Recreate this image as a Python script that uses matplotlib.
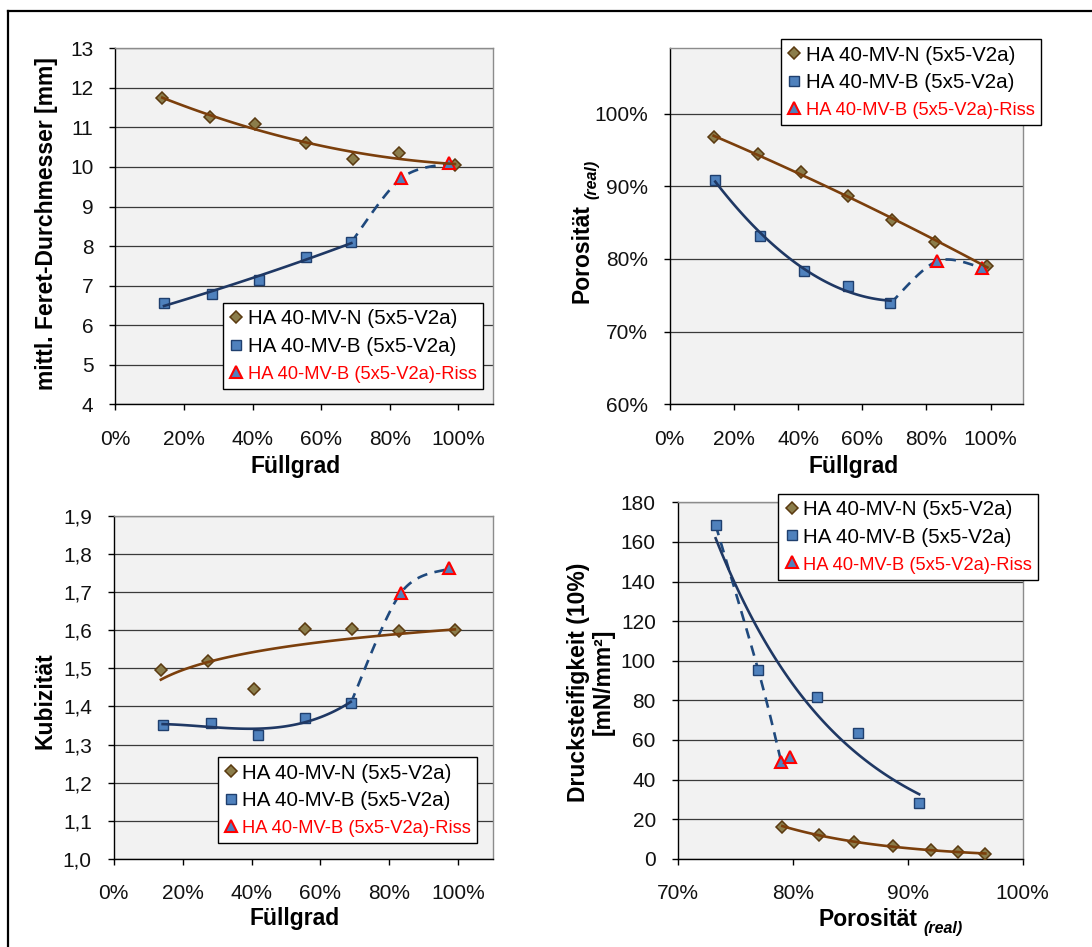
#!/usr/bin/env python3
"""Feret-Durchmesser, Porosität, Kubizität und Drucksteifigkeit über Füllgrad."""
import numpy as np
import matplotlib
matplotlib.use('Agg')
import matplotlib.pyplot as plt
from matplotlib.lines import Line2D
from matplotlib.ticker import FuncFormatter

plt.rcParams['font.family'] = ['Liberation Sans', 'DejaVu Sans']

# --- data -----------------------------------------------------------------
labels = ['HA 40-MV-N (5x5-V2a)', 'HA 40-MV-B (5x5-V2a)', 'HA 40-MV-B (5x5-V2a)-Riss']

# Füllgrad
fill_n = [0.137, 0.275, 0.408, 0.555, 0.692, 0.828, 0.990]
fill_b = [0.142, 0.282, 0.418, 0.556, 0.688]
fill_riss = [0.833, 0.974]

# mittl. Feret-Durchmesser [mm]
feret_n = [11.74, 11.27, 11.09, 10.61, 10.19, 10.35, 10.05]
feret_b = [6.57, 6.79, 7.14, 7.73, 8.10]
feret_riss = [9.71, 10.09]

# Porosität (real)
por_n = [0.9675, 0.944, 0.920, 0.887, 0.853, 0.823, 0.791]
por_b = [0.909, 0.832, 0.784, 0.763, 0.739]
por_riss = [0.797, 0.788]

# Kubizität
kub_n = [1.496, 1.518, 1.446, 1.603, 1.603, 1.597, 1.600]
kub_b = [1.351, 1.357, 1.325, 1.370, 1.409]
kub_riss = [1.697, 1.762]

# Drucksteifigkeit (10%) [mN/mm²] über Porosität
stiff_n = [2.5, 3.5, 4.2, 6.6, 8.3, 12.1, 16.0]
stiff_por_b = [0.733, 0.770, 0.821, 0.857, 0.910]
stiff_b = [168.5, 95.3, 81.7, 63.5, 28.1]
stiff_por_riss = [0.790, 0.798]
stiff_riss = [49.0, 51.5]

# --- style ----------------------------------------------------------------
BROWN = '#7B3F0C'
DIA_FACE = '#8B7D4B'
DIA_EDGE = '#5A3A10'
SQ_FACE = '#4F81BD'
SQ_EDGE = '#1F3F6E'
NAVY = '#1F3864'
DASH = '#1F497D'
RED = '#FF0000'

W, H = 1092, 947
LABEL_FS = 16.5
TICK_FS = 15
DIA_MS, SQ_MS, TRI_MS = 6.6, 6.6, 8.2


def fig_xy(x, y):
    return x / W, 1 - y / H


def trend(x, y, kind, n=120):
    x = np.asarray(x, float)
    y = np.asarray(y, float)
    xs = np.linspace(x.min(), x.max(), n)
    if kind == 'exp':
        c = np.polyfit(x, np.log(y), 1)
        return xs, np.exp(np.polyval(c, xs))
    if kind == 'log':
        c = np.polyfit(np.log(x), y, 1)
        return xs, np.polyval(c, np.log(xs))
    deg = {'lin': 1, 'poly2': 2, 'poly3': 3}[kind]
    c = np.polyfit(x, y, deg)
    return xs, np.polyval(c, xs)


def smooth(xs, ys, xr, yr, n=30):
    # Catmull-Rom in normalised axes space (like Excel's smoothed line)
    pts = np.column_stack([np.asarray(xs, float) / xr, np.asarray(ys, float) / yr])
    ext = np.vstack([pts[0], pts, pts[-1]])
    t = np.linspace(0, 1, n)[:, None]
    segs = []
    for i in range(1, len(ext) - 2):
        p0, p1, p2, p3 = ext[i - 1], ext[i], ext[i + 1], ext[i + 2]
        seg = 0.5 * (2 * p1 + (p2 - p0) * t + (2 * p0 - 5 * p1 + 4 * p2 - p3) * t ** 2
                     + (3 * p1 - p0 - 3 * p2 + p3) * t ** 3)
        segs.append(seg)
    out = np.vstack(segs)
    return out[:, 0] * xr, out[:, 1] * yr


def style_axes(ax, xlim, ylim, xticks, yticks, xfmt, yfmt):
    ax.set_facecolor('#F2F2F2')
    ax.set_xlim(*xlim)
    ax.set_ylim(*ylim)
    ax.set_xticks(xticks)
    ax.set_yticks(yticks)
    ax.xaxis.set_major_formatter(FuncFormatter(xfmt))
    ax.yaxis.set_major_formatter(FuncFormatter(yfmt))
    ax.tick_params(axis='both', direction='out', length=4.3, width=1, colors='black',
                   labelsize=TICK_FS, labelcolor='#111111')
    ax.tick_params(axis='x', pad=14)
    ax.tick_params(axis='y', pad=11.5)
    ax.grid(axis='y', color='#3A3A3A', lw=0.9)
    ax.set_axisbelow(True)
    ax.spines['left'].set_color('black')
    ax.spines['bottom'].set_color('black')
    for s in ('top', 'right'):
        ax.spines[s].set_color('#8C8C8C')
    for s in ax.spines.values():
        s.set_linewidth(1.0)


def add_legend(ax, anchor):
    handles = [
        Line2D([], [], ls='none', marker='D', ms=DIA_MS, mfc=DIA_FACE, mec=DIA_EDGE, mew=1.1),
        Line2D([], [], ls='none', marker='s', ms=SQ_MS, mfc=SQ_FACE, mec=SQ_EDGE, mew=1.0),
        Line2D([], [], ls='none', marker='^', ms=TRI_MS, mfc=SQ_FACE, mec=RED, mew=1.5),
    ]
    leg = ax.legend(handles, labels, loc='upper left', bbox_to_anchor=anchor,
                    borderaxespad=0, fontsize=14.8, handlelength=0.7, handletextpad=0.2,
                    labelspacing=0.42, borderpad=0.3, fancybox=False, framealpha=1,
                    edgecolor='black')
    leg.get_frame().set_linewidth(1.0)
    riss = leg.get_texts()[2]
    riss.set_color(RED)
    riss.set_fontsize(13.2)
    leg.set_zorder(10)
    return leg


def plot_series(ax, xn, yn, xb, yb, xr, yr, fit_n, fit_b, dash_x, dash_y, rng):
    tx, ty = trend(xn, yn, fit_n)
    ax.plot(tx, ty, color=BROWN, lw=1.9, zorder=4)
    tx, ty = trend(xb, yb, fit_b)
    ax.plot(tx, ty, color=NAVY, lw=1.9, zorder=4)
    sx, sy = smooth(dash_x, dash_y, *rng)
    ax.plot(sx, sy, color=DASH, lw=1.9, ls=(0, (4, 2.8)), zorder=2.6)
    ax.plot(xn, yn, ls='none', marker='D', ms=DIA_MS, mfc=DIA_FACE, mec=DIA_EDGE, mew=1.1,
            zorder=3)
    ax.plot(xb, yb, ls='none', marker='s', ms=SQ_MS, mfc=SQ_FACE, mec=SQ_EDGE, mew=1.0,
            zorder=3)
    ax.plot(xr, yr, ls='none', marker='^', ms=TRI_MS, mfc=SQ_FACE, mec=RED, mew=1.5,
            zorder=3.5)


def pct(v, pos):
    return f'{v * 100:.0f}%'


def comma1(v, pos):
    return f'{v:.1f}'.replace('.', ',')


def plain(v, pos):
    return f'{v:.0f}'


def main():
    fig = plt.figure(figsize=(W / 100, H / 100), dpi=100)
    fill_ticks = [0, 0.2, 0.4, 0.6, 0.8, 1.0]

    # outer frame (left + top)
    fig.add_artist(Line2D([8 / W, 8 / W], [0, 1 - 11 / H], color='black', lw=1.6,
                          transform=fig.transFigure))
    fig.add_artist(Line2D([8 / W, 1], [1 - 11 / H, 1 - 11 / H], color='black', lw=1.6,
                          transform=fig.transFigure))

    # top left: Feret-Durchmesser
    ax1 = fig.add_axes([115.3 / W, 1 - 404.3 / H, 377.4 / W, 356 / H])
    style_axes(ax1, (0, 1.1), (4, 13), fill_ticks, range(4, 14), pct, plain)
    plot_series(ax1, fill_n, feret_n, fill_b, feret_b, fill_riss, feret_riss,
                'poly2', 'exp', [fill_b[-1]] + fill_riss, [feret_b[-1]] + feret_riss, (1.1, 9))
    ax1.set_ylabel('mittl. Feret-Durchmesser [mm]', fontsize=LABEL_FS, fontweight='bold')
    ax1.yaxis.set_label_coords(-0.152, 0.509)
    ax1.set_xlabel('Füllgrad', fontsize=LABEL_FS, fontweight='bold')
    ax1.xaxis.set_label_coords(0.477, -0.142)
    add_legend(ax1, (0.285, 0.284))

    # top right: Porosität
    ax2 = fig.add_axes([669.7 / W, 1 - 404.3 / H, 353 / W, 356 / H])
    style_axes(ax2, (0, 1.1), (0.6, 1.09), fill_ticks, [0.6, 0.7, 0.8, 0.9, 1.0], pct, pct)
    plot_series(ax2, fill_n, por_n, fill_b, por_b, fill_riss, por_riss,
                'poly2', 'poly2', [fill_b[-1]] + fill_riss, [por_b[-1]] + por_riss, (1.1, 0.49))
    ax2.set_xlabel('Füllgrad', fontsize=LABEL_FS, fontweight='bold')
    ax2.xaxis.set_label_coords(0.5215, -0.142)
    add_legend(ax2, (0.315, 1.025))
    fig.text(*fig_xy(589, 303), 'Porosität', rotation=90, rotation_mode='anchor',
             ha='left', va='baseline', fontsize=LABEL_FS, fontweight='bold')
    fig.text(*fig_xy(596, 199), '(real)', rotation=90, rotation_mode='anchor',
             ha='left', va='baseline', fontsize=11.5, fontweight='bold', fontstyle='italic')

    # bottom left: Kubizität
    ax3 = fig.add_axes([113.7 / W, 1 - 859 / H, 379 / W, 343.3 / H])
    style_axes(ax3, (0, 1.1), (1.0, 1.9), fill_ticks, np.linspace(1.0, 1.9, 10), pct, comma1)
    plot_series(ax3, fill_n, kub_n, fill_b, kub_b, fill_riss, kub_riss,
                'log', 'poly3', [fill_b[-1]] + fill_riss, [kub_b[-1]] + kub_riss, (1.1, 0.9))
    ax3.set_ylabel('Kubizität', fontsize=LABEL_FS, fontweight='bold')
    ax3.yaxis.set_label_coords(-0.152, 0.462)
    ax3.set_xlabel('Füllgrad', fontsize=LABEL_FS, fontweight='bold')
    ax3.xaxis.set_label_coords(0.478, -0.14)
    add_legend(ax3, (0.274, 0.296))

    # bottom right: Drucksteifigkeit über Porosität
    ax4 = fig.add_axes([677.7 / W, 1 - 858.7 / H, 345 / W, 356.4 / H])
    style_axes(ax4, (0.7, 1.0), (0, 180), [0.7, 0.8, 0.9, 1.0], range(0, 181, 20), pct, plain)
    dash_x = [stiff_por_b[0], stiff_por_b[1], stiff_por_riss[0]]
    dash_y = [stiff_b[0], stiff_b[1], stiff_riss[0]]
    plot_series(ax4, por_n, stiff_n, stiff_por_b, stiff_b, stiff_por_riss, stiff_riss,
                'exp', 'exp', dash_x, dash_y, (0.3, 180))
    ax4.set_ylabel('Drucksteifigkeit (10%)\n[mN/mm²]', fontsize=LABEL_FS, fontweight='bold',
                   linespacing=1.1)
    ax4.yaxis.set_label_coords(-0.183, 0.496)
    add_legend(ax4, (0.2916, 1.024))
    fig.text(*fig_xy(818, 926), 'Porosität', ha='left', va='baseline',
             fontsize=LABEL_FS, fontweight='bold')
    fig.text(*fig_xy(923, 933), '(real)', ha='left', va='baseline',
             fontsize=11.5, fontweight='bold', fontstyle='italic')

    fig.savefig('out.png', dpi=100)


if __name__ == '__main__':
    main()
